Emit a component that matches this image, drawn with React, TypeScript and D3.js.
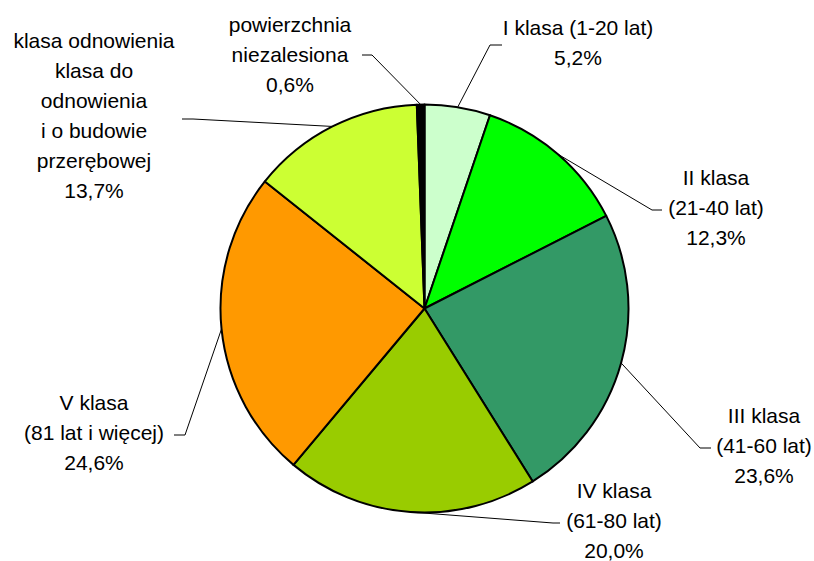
// Pie: forest area by age class. Slices clockwise from 12 o'clock, Excel-style
// callout labels with thin leader lines (elbow + short horizontal stub).
import { useEffect, useRef } from "react";
import * as d3 from "d3";

const categories = [
  "I klasa (1-20 lat)",
  "II klasa (21-40 lat)",
  "III klasa (41-60 lat)",
  "IV klasa (61-80 lat)",
  "V klasa (81 lat i więcej)",
  "klasa odnowienia",
  "powierzchnia niezalesiona",
];
const values = [5.2, 12.3, 23.6, 20.0, 24.6, 13.7, 0.6];
const labelLines = [
  ["I klasa (1-20 lat)", "5,2%"],
  ["II klasa", "(21-40 lat)", "12,3%"],
  ["III klasa", "(41-60 lat)", "23,6%"],
  ["IV klasa", "(61-80 lat)", "20,0%"],
  ["V klasa", "(81 lat i więcej)", "24,6%"],
  ["klasa odnowienia", "klasa do", "odnowienia", "i o budowie", "przerębowej", "13,7%"],
  ["powierzchnia", "niezalesiona", "0,6%"],
];
const colors = ["#CCFFCC", "#00FF00", "#339966", "#99CC00", "#FF9900", "#CCFF33", "#000000"];

// layout only: label centre x / first baseline y, leader elbow and stub end
const labelPos = [
  { x: 578, y: 35, elbow: [490, 45], stub: [502, 45] },
  { x: 716, y: 185, elbow: [652, 210], stub: [662, 210] },
  { x: 764, y: 423, elbow: [700, 448], stub: [711, 448] },
  { x: 614, y: 498, elbow: [553, 523], stub: [560, 523] },
  { x: 94, y: 410, elbow: [185, 435], stub: [174, 435] },
  { x: 94, y: 48, elbow: [193, 119], stub: [182, 119] },
  { x: 290, y: 32, elbow: [372, 55], stub: [362, 55] },
];

const W = 814;
const H = 561;
const CX = 424.5;
const CY = 308.5;
const R = 204;
const LINE_H = 30;

export default function App() {
  const ref = useRef<SVGSVGElement>(null);

  useEffect(() => {
    const svg = d3.select(ref.current);
    svg.selectAll("*").remove();

    const pie = d3
      .pie<number>()
      .sort(null)
      .value((d) => d)
      .startAngle(0)
      .endAngle(2 * Math.PI);
    const arcs = pie(values);
    const arc = d3.arc<d3.PieArcDatum<number>>().innerRadius(0).outerRadius(R);

    const g = svg.append("g").attr("transform", `translate(${CX},${CY})`);
    g.selectAll("path")
      .data(arcs)
      .join("path")
      .attr("d", arc)
      .attr("fill", (_d, i) => colors[i])
      .attr("stroke", "#000")
      .attr("stroke-width", 2)
      .attr("stroke-linejoin", "round")
      .append("title")
      .text((_d, i) => categories[i]);

    // leaders: arc mid-point → elbow → stub
    arcs.forEach((a, i) => {
      const mid = (a.startAngle + a.endAngle) / 2;
      const p0 = [CX + R * Math.sin(mid), CY - R * Math.cos(mid)];
      const lp = labelPos[i];
      svg
        .append("polyline")
        .attr("points", [p0, lp.elbow, lp.stub].map((p) => p.join(",")).join(" "))
        .attr("fill", "none")
        .attr("stroke", "#000")
        .attr("stroke-width", 1);
    });

    // labels
    labelLines.forEach((lines, i) => {
      const lp = labelPos[i];
      const t = svg
        .append("text")
        .attr("text-anchor", "middle")
        .attr("font-family", "'Liberation Sans', Arial, sans-serif")
        .attr("font-size", 21)
        .attr("fill", "#000");
      lines.forEach((ln, k) => {
        t.append("tspan").attr("x", lp.x).attr("y", lp.y + k * LINE_H).text(ln);
      });
    });
  }, []);

  return (
    <>
      <style>{`body { margin: 0; background: #fff; }`}</style>
      <svg ref={ref} width={W} height={H} viewBox={`0 0 ${W} ${H}`} style={{ display: "block" }} />
    </>
  );
}
